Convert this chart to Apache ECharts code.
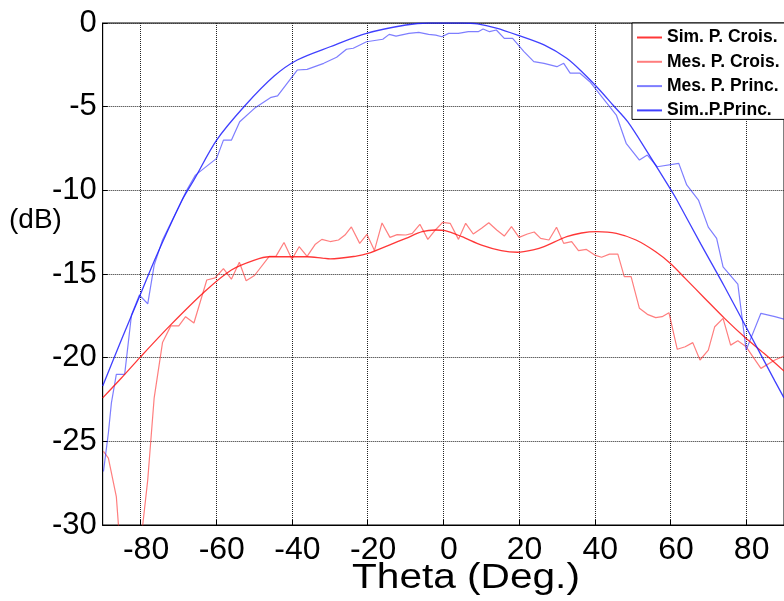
<!DOCTYPE html>
<html>
<head>
<meta charset="utf-8">
<script src="https://cdn.jsdelivr.net/npm/echarts@6/dist/echarts.min.js"></script>
<style>
html,body{margin:0;padding:0;background:#fff;}
#chart{width:784px;height:601px;}
</style>
</head>
<body>
<div id="chart"></div>
<script>
// ---- data ----
const seriesNames = ['Sim. P. Crois.', 'Mes. P. Crois.', 'Mes. P. Princ.', 'Sim..P.Princ.'];
const xTickValues = [-80, -60, -40, -20, 0, 20, 40, 60, 80];
const xLabel = 'Theta (Deg.)';
const yLabel = '(dB)';

const simCroisTheta = [-90, -85, -80, -72.3, -63.1, -56, -49.9, -46, -40, -36, -32, -29.9, -23, -19.9, -14.3, -9.9, -5.6, -2.1, 0.45, 4.9, 10.1, 15.3, 19.6, 24, 26.6, 32.6, 36.5, 40.5, 45.7, 50.9, 56.1, 60, 63.9, 69.1, 74.3, 79.5, 84.7, 90];
const simCroisDb = [-22.4, -21.2, -19.95, -18.1, -16.06, -14.76, -14.17, -13.97, -13.97, -13.97, -14.05, -14.1, -13.93, -13.77, -13.27, -12.87, -12.47, -12.37, -12.41, -12.77, -13.27, -13.6, -13.7, -13.55, -13.37, -12.77, -12.55, -12.47, -12.57, -12.97, -13.67, -14.37, -15.26, -16.46, -17.65, -18.75, -19.74, -20.8];

const mesCroisTheta = [-89.8, -88.5, -86.4, -84.2, -82.2, -80.3, -78.1, -76.4, -74.2, -72, -69.9, -68.1, -65.9, -62.5, -60.3, -58.1, -56, -53.9, -52.1, -49.9, -46, -44.2, -42.1, -40, -38.1, -36, -33.9, -32.1, -29.9, -27.7, -26, -24.3, -22.1, -20.2, -18.2, -16.2, -14.1, -12.2, -9.9, -8.2, -6.2, -4.1, -2.1, -0.2, 1.8, 4, 5.9, 7.9, 10.1, 12, 14.1, 16.1, 18, 20, 22.2, 24, 25.7, 27.9, 29.9, 31.8, 33.9, 35.7, 37.8, 40, 41.8, 43.9, 46.1, 47.8, 49.6, 51.8, 53.9, 56.1, 57.8, 59.6, 61.8, 63.9, 65.9, 67.8, 70, 71.7, 73.9, 75.9, 77.8, 80, 83.9, 87.6, 90];
const mesCroisDb = [-25.6, -26.0, -28.3, -35, -36, -31.8, -27.3, -22.4, -19.1, -18.1, -18.1, -17.55, -17.93, -15.36, -15.23, -14.68, -15.31, -14.3, -15.4, -15.09, -13.95, -13.93, -13.12, -14.12, -13.37, -13.95, -13.24, -12.93, -13.06, -12.97, -12.67, -12.19, -13.17, -12.63, -13.59, -11.95, -12.81, -12.65, -12.67, -12.57, -12.03, -12.93, -12.37, -11.91, -11.97, -12.93, -11.97, -12.61, -12.27, -11.94, -12.37, -12.73, -12.17, -12.81, -12.61, -12.49, -12.87, -12.97, -12.21, -13.17, -13.07, -13.6, -13.53, -13.87, -14.0, -13.81, -13.81, -15.16, -15.16, -17.05, -17.41, -17.61, -17.55, -17.31, -19.5, -19.35, -19.1, -20.14, -19.55, -18.15, -17.65, -19.25, -18.99, -19.35, -20.64, -20.14, -19.9];

const mesPrincTheta = [-89.8, -88.5, -87.7, -86.4, -84.2, -82.4, -80.3, -78.1, -76.4, -74.2, -72.9, -69.9, -67.7, -65.5, -59.9, -58.1, -56, -53.8, -49.9, -45.5, -43.8, -38.6, -36, -31.6, -28.2, -25.6, -23.8, -20.3, -16, -14.3, -12.5, -9.1, -6.5, -3.9, -2, -0.4, 1.4, 4, 6.6, 9.2, 10.5, 12.2, 14, 16.1, 18.3, 21.3, 23.9, 26.6, 30, 31.8, 33.5, 36.1, 38.7, 42.2, 45.7, 48.3, 51.8, 53.9, 56.5, 62.2, 64.3, 67.4, 70, 72.2, 73.9, 77.8, 80, 83.9, 87.6, 90];
const mesPrincDb = [-26.8, -24.5, -22.7, -21.0, -21.0, -17.45, -16.26, -16.78, -14.47, -12.97, -12.37, -10.98, -9.95, -9.09, -8.09, -7.0, -7.0, -5.9, -5.1, -4.44, -4.36, -2.81, -2.77, -2.41, -2.05, -1.57, -1.51, -1.12, -0.97, -0.68, -0.78, -0.62, -0.56, -0.68, -0.72, -0.82, -0.62, -0.62, -0.52, -0.52, -0.36, -0.52, -0.42, -0.92, -0.92, -1.71, -2.31, -2.41, -2.61, -2.41, -3.0, -3.0, -3.51, -4.5, -5.5, -7.19, -8.19, -7.89, -8.59, -8.39, -9.68, -10.58, -12.2, -12.87, -14.57, -15.6, -19.55, -17.35, -17.55, -17.7];

const simPrincTheta = [-90, -85, -80.3, -75.9, -69, -65.9, -59.9, -52.5, -44.7, -38.6, -29.9, -20.3, -9.9, -3.9, 0, 5, 9, 14, 19.6, 26.6, 32.6, 37, 41.3, 44.8, 48.7, 54, 59.6, 61.7, 68, 74.3, 81, 87.6, 90];
const simPrincDb = [-21.7, -18.9, -16.36, -13.97, -10.58, -9.38, -7.0, -4.96, -3.17, -2.21, -1.42, -0.62, -0.12, 0, 0, 0, -0.05, -0.3, -0.72, -1.31, -2.11, -3.0, -4.0, -4.9, -5.9, -7.75, -9.78, -10.58, -13.2, -15.76, -18.6, -21.4, -22.4];

// ---- build ----
function zip(xs, ys) { return xs.map((x, i) => [x, ys[i]]); }

const colors = {
  simCrois: 'rgba(255,20,20,0.85)',
  mesCrois: 'rgba(255,40,40,0.6)',
  mesPrinc: 'rgba(40,40,255,0.6)',
  simPrinc: 'rgba(30,30,255,0.85)'
};

const chart = echarts.init(document.getElementById('chart'), null, {renderer: 'canvas'});
const font = '"Liberation Sans", Arial, Helvetica, sans-serif';

function lineSeries(idx, xs, ys, color, width, smooth) {
  return {
    name: seriesNames[idx], type: 'line', data: zip(xs, ys),
    symbol: 'none', showSymbol: false, smooth: smooth,
    lineStyle: {color: color, width: width},
    itemStyle: {color: color},
    z: smooth ? 3 : 2
  };
}

chart.setOption({
  animation: false,
  backgroundColor: '#fff',
  grid: {
    left: 102.7, top: 23, bottom: 76, right: -9.5,
    show: true, borderColor: '#000', borderWidth: 1, backgroundColor: 'transparent'
  },
  xAxis: {
    type: 'value', min: -90, max: 90,
    axisLine: {show: true, onZero: false, lineStyle: {color: '#000', width: 1}},
    axisTick: {show: true, inside: true, length: 5, customValues: xTickValues, lineStyle: {color: '#000'}},
    axisLabel: {show: true, customValues: xTickValues, color: '#000', fontSize: 32, fontFamily: font, margin: 9, padding: [0, 0, 0, 11]},
    splitLine: {show: true, lineStyle: {color: '#222', type: [1, 1], width: 1}}
  },
  yAxis: {
    type: 'value', min: -30, max: 0, interval: 5,
    axisLine: {show: true, onZero: false, lineStyle: {color: '#000', width: 1}},
    axisTick: {show: true, inside: true, length: 5, lineStyle: {color: '#000'}},
    axisLabel: {color: '#000', fontSize: 31, fontFamily: font, margin: 6},
    splitLine: {show: true, lineStyle: {color: '#222', type: [1, 1], width: 1}}
  },
  legend: {
    show: true, orient: 'vertical', left: 632, top: 23,
    padding: [5.5, 30, 0, 4],
    itemWidth: 25, itemHeight: 14, itemGap: 6.3,
    itemStyle: {color: 'transparent', borderWidth: 0, opacity: 0},
    backgroundColor: '#fff', borderColor: '#000', borderWidth: 1, borderRadius: 0,
    textStyle: {color: '#000', fontSize: 17.5, fontWeight: 'bold', fontFamily: font, lineHeight: 15},
    data: seriesNames
  },
  graphic: [
    {type: 'text', left: 9, top: 206, style: {text: yLabel, fill: '#000', font: '28px ' + font}},
    {type: 'text', x: 352, y: 561, scaleX: 1.16, style: {text: xLabel, fill: '#000', font: '35px ' + font}}
  ],
  series: [
    lineSeries(0, simCroisTheta, simCroisDb, colors.simCrois, 1.3, 0.3),
    lineSeries(1, mesCroisTheta, mesCroisDb, colors.mesCrois, 1.2, false),
    lineSeries(2, mesPrincTheta, mesPrincDb, colors.mesPrinc, 1.2, false),
    lineSeries(3, simPrincTheta, simPrincDb, colors.simPrinc, 1.3, 0.3)
  ]
});
</script>
</body>
</html>
